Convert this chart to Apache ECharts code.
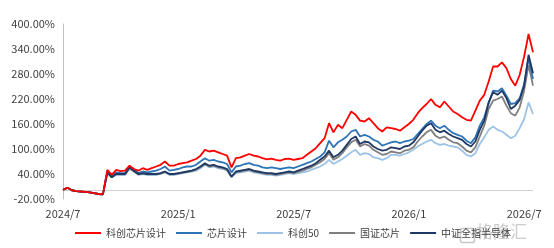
<!DOCTYPE html>
<html>
<head>
<meta charset="utf-8">
<script src="https://cdn.jsdelivr.net/npm/echarts@6/dist/echarts.min.js"></script>
<style>
  html, body { margin: 0; padding: 0; background: #fff; }
  #chart { width: 554px; height: 248px; }
</style>
</head>
<body>
<div id="chart"></div>
<script>
// 周度数据点，2024/7 起
const startDate = new Date(2024, 6, 1)
const tickIndex = [0, 26, 52, 78, 104]
const tickLabels = ['2024/7', '2025/1', '2025/7', '2026/1', '2026/7']

const kcDesign = [2, 7, 1, -1, -2, -3, -4, -6, -8, -9,
  50, 38, 50, 47, 48, 60, 52, 48, 54, 50,
  54, 58, 62, 70, 60, 60, 64, 66, 68, 72,
  76, 84, 98, 94, 96, 92, 88, 84, 56, 78,
  80, 84, 88, 84, 82, 78, 75, 77, 74, 72,
  76, 77, 74, 76, 78, 86, 94, 102, 114, 126,
  162, 140, 158, 150, 170, 190, 182, 168, 166, 174,
  162, 150, 142, 152, 150, 148, 144, 152, 160, 170,
  186, 198, 208, 220, 206, 200, 214, 202, 190, 184,
  176, 170, 168, 192, 216, 230, 262, 298, 298, 308,
  294, 268, 252, 278, 322, 376, 332]

const chipDesign = [2, 7, 1, -1, -2, -3, -4, -6, -8, -9,
  46, 34, 44, 42, 42, 58, 50, 42, 46, 44,
  46, 48, 52, 58, 48, 50, 52, 56, 58, 58,
  62, 70, 78, 72, 74, 70, 68, 64, 44, 58,
  60, 64, 66, 62, 60, 56, 54, 56, 54, 52,
  54, 56, 54, 58, 62, 66, 70, 76, 82, 92,
  120, 104, 116, 122, 130, 142, 146, 130, 134, 130,
  122, 118, 108, 112, 116, 118, 114, 118, 120, 124,
  136, 148, 160, 168, 156, 150, 156, 146, 138, 134,
  130, 120, 114, 128, 156, 176, 210, 240, 238, 246,
  228, 208, 210, 222, 256, 318, 268]

const kc50 = [2, 7, 1, -1, -2, -3, -4, -6, -8, -9,
  42, 32, 38, 38, 38, 52, 46, 38, 40, 38,
  38, 38, 40, 44, 38, 38, 40, 42, 44, 46,
  48, 54, 62, 56, 58, 54, 52, 48, 32, 42,
  44, 46, 48, 44, 42, 40, 38, 38, 36, 38,
  40, 42, 40, 42, 44, 46, 50, 54, 58, 64,
  74, 64, 70, 76, 84, 92, 98, 86, 90, 88,
  80, 78, 74, 78, 86, 86, 84, 88, 92, 98,
  106, 112, 118, 122, 114, 110, 112, 108, 106, 104,
  96, 86, 82, 90, 112, 128, 146, 154, 146, 142,
  134, 126, 132, 150, 172, 212, 184]

const gzChip = [2, 7, 1, -1, -2, -3, -4, -6, -8, -9,
  44, 32, 40, 39, 39, 54, 46, 39, 41, 39,
  39, 39, 41, 45, 39, 39, 41, 43, 45, 47,
  50, 56, 64, 58, 60, 56, 54, 50, 33, 44,
  46, 48, 50, 46, 44, 42, 40, 40, 38, 40,
  42, 44, 42, 45, 48, 52, 56, 62, 68, 76,
  90, 74, 80, 90, 104, 116, 122, 106, 112, 108,
  98, 92, 86, 88, 94, 92, 90, 96, 98, 104,
  118, 130, 140, 146, 132, 126, 130, 122, 116, 114,
  106, 96, 92, 104, 130, 156, 196, 216, 220, 226,
  204, 186, 180, 200, 240, 302, 252]

const csiSemi = [2, 7, 1, -1, -2, -3, -4, -6, -8, -9,
  44, 32, 40, 40, 40, 56, 48, 40, 42, 40,
  40, 40, 42, 46, 40, 40, 42, 44, 46, 48,
  52, 58, 66, 60, 62, 58, 56, 52, 34, 46,
  48, 50, 52, 48, 46, 44, 42, 42, 40, 42,
  44, 46, 44, 48, 52, 56, 60, 66, 74, 82,
  96, 80, 86, 96, 110, 124, 130, 112, 118, 116,
  106, 100, 96, 98, 104, 102, 100, 106, 108, 116,
  130, 144, 156, 162, 146, 140, 144, 136, 130, 126,
  122, 112, 106, 118, 146, 168, 212, 236, 230, 240,
  222, 196, 204, 218, 252, 326, 282]

const seriesNames = ['科创芯片设计', '芯片设计', '科创50', '国证芯片', '中证全指半导体']
const seriesColors = ['#ff0000', '#2e75b6', '#9dc3e6', '#7f7f7f', '#1f3864']
const seriesData = [kcDesign, chipDesign, kc50, gzChip, csiSemi]
const seriesZ = [6, 4, 2, 3, 5]

const categories = []
for (let i = 0; i < kcDesign.length; i++) {
  const d = new Date(startDate.getTime() + i * 7 * 86400000)
  categories.push(d.getFullYear() + '/' + (d.getMonth() + 1) + '/' + d.getDate())
}

const chart = echarts.init(document.getElementById('chart'))

const option = {
  animation: false,
  textStyle: { fontFamily: 'Noto Sans CJK SC' },
  grid: { left: 63, right: 21, top: 24, bottom: 49 },
  legend: {
    left: 70,
    top: 223,
    icon: 'rect',
    itemWidth: 26,
    itemHeight: 2,
    itemGap: 10,
    textStyle: { fontSize: 10, color: '#404040' },
    data: seriesNames
  },
  xAxis: {
    type: 'category',
    data: categories,
    boundaryGap: false,
    axisLine: { onZero: false, show: false },
    axisTick: { show: false },
    axisLabel: {
      color: '#404040',
      fontSize: 11,
      margin: 9,
      interval: (idx) => tickIndex.includes(idx),
      formatter: (val, idx) => tickLabels[tickIndex.indexOf(idx)] || ''
    }
  },
  yAxis: {
    type: 'value',
    min: -20,
    max: 400,
    interval: 60,
    axisLine: { show: true, lineStyle: { color: '#bfbfbf' } },
    axisTick: { show: false },
    splitLine: { show: false },
    axisLabel: {
      color: '#404040',
      fontSize: 11,
      margin: 8,
      formatter: (v) => v.toFixed(2) + '%'
    }
  },
  graphic: [{
    type: 'rect',
    left: 458,
    top: 226,
    shape: { width: 14, height: 14, r: 2 },
    style: { fill: 'none', stroke: 'rgba(160,160,160,0.6)', lineWidth: 1.5 }
  }, {
    type: 'text',
    left: 476,
    top: 223,
    style: { text: '格隆汇', fontSize: 17, fill: 'rgba(170,170,170,0.6)', fontFamily: 'Noto Sans CJK SC' }
  }],
  series: seriesNames.map((name, k) => {
    const s = {
      name: name,
      type: 'line',
      data: seriesData[k],
      symbol: 'none',
      z: seriesZ[k],
      lineStyle: { color: seriesColors[k], width: 1.8 },
      itemStyle: { color: seriesColors[k] }
    }
    if (k === 0) {
      // 0% 基准线
      s.markLine = {
        silent: true,
        symbol: 'none',
        label: { show: false },
        lineStyle: { color: '#d0d0d0', type: 'solid', width: 1 },
        data: [{ yAxis: 0 }]
      }
    }
    return s
  })
}

chart.setOption(option)
</script>
</body>
</html>
